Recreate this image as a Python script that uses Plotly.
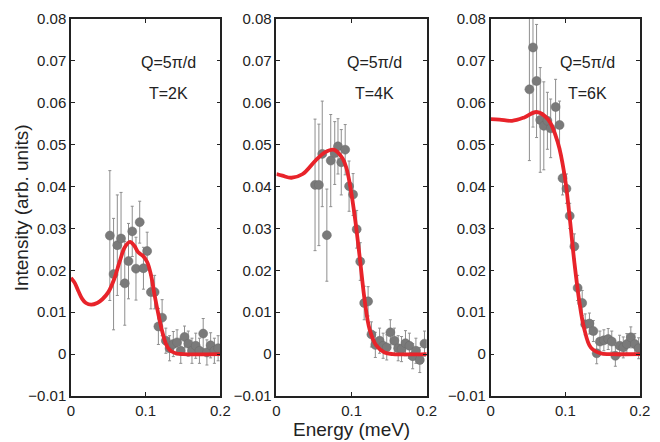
import plotly.graph_objects as go

# measured points, one list per temperature
e_2k = [0.052, 0.057, 0.062, 0.067, 0.072, 0.077, 0.082, 0.087, 0.092, 0.097,
        0.102, 0.107, 0.112, 0.117, 0.122, 0.127, 0.132, 0.137, 0.142, 0.147,
        0.152, 0.157, 0.162, 0.167, 0.172, 0.177, 0.182, 0.187, 0.192, 0.197]
i_2k = [0.0283, 0.0191, 0.0260, 0.0276, 0.0169, 0.0222, 0.0293, 0.0204, 0.0315, 0.0205,
        0.0246, 0.0148, 0.0148, 0.0066, 0.0087, 0.0032, 0.0014, 0.0024, 0.0028, 0.0008,
        0.0041, 0.0025, 0.0008, 0.0020, 0.0008, 0.0049, 0.0004, 0.0021, 0.0008, 0.0014]
err_2k = [0.0155, 0.0133, 0.012, 0.011, 0.010, 0.009, 0.006, 0.0075, 0.005, 0.005,
          0.0045, 0.004, 0.004, 0.0043, 0.0043, 0.003, 0.003, 0.003, 0.003, 0.003,
          0.0026, 0.003, 0.003, 0.003, 0.003, 0.0036, 0.003, 0.003, 0.003, 0.003]

e_4k = [0.0514, 0.0565, 0.061, 0.0671, 0.0723, 0.0776, 0.0819, 0.0863, 0.0915, 0.0967,
        0.102, 0.1068, 0.1115, 0.1168, 0.122, 0.1264, 0.1316, 0.1373, 0.142, 0.1468,
        0.1516, 0.1569, 0.162, 0.1665, 0.1717, 0.1769, 0.1813, 0.1856, 0.1908, 0.197]
i_4k = [0.0404, 0.0404, 0.0478, 0.0284, 0.0462, 0.0480, 0.0496, 0.0458, 0.0488, 0.0401,
        0.0381, 0.0298, 0.0221, 0.0122, 0.0126, 0.0047, 0.0022, 0.0032, 0.0020, 0.0016,
        0.0052, 0.0032, 0.0014, 0.0012, 0.0026, 0.0020, -0.0005, 0.0008, -0.0014, 0.0025]
err_4k = [0.0157, 0.0145, 0.0126, 0.011, 0.011, 0.0075, 0.0066, 0.0078, 0.006, 0.006,
          0.005, 0.0045, 0.0045, 0.004, 0.0035, 0.003, 0.003, 0.003, 0.003, 0.003,
          0.003, 0.003, 0.003, 0.003, 0.003, 0.003, 0.003, 0.003, 0.003, 0.003]

e_6k = [0.0519, 0.0567, 0.0615, 0.0664, 0.0712, 0.076, 0.0804, 0.087, 0.0923, 0.0963,
        0.1015, 0.1059, 0.1121, 0.1165, 0.1226, 0.1266, 0.1323, 0.1376, 0.142, 0.1464,
        0.1516, 0.1574, 0.1622, 0.167, 0.1727, 0.1776, 0.1824, 0.1877, 0.193, 0.1982]
i_6k = [0.0632, 0.0732, 0.0652, 0.0559, 0.0545, 0.0557, 0.0539, 0.0590, 0.0547, 0.0420,
        0.0395, 0.0330, 0.0257, 0.0158, 0.0122, 0.0071, 0.0073, 0.0055, 0.0002, 0.0030,
        0.0033, 0.0036, 0.0030, -0.0004, 0.0020, 0.0016, 0.0024, 0.0040, 0.0024, 0.0014]
err_6k = [0.017, 0.019, 0.0135, 0.0125, 0.0105, 0.0068, 0.007, 0.0066, 0.0057, 0.004,
          0.0035, 0.003, 0.003, 0.003, 0.003, 0.0025, 0.0025, 0.0025, 0.0025, 0.0025,
          0.0025, 0.0025, 0.0025, 0.0025, 0.0025, 0.0025, 0.0025, 0.0025, 0.0025, 0.0025]

# fitted curves
fe_2k = [0.0, 0.005, 0.010, 0.015, 0.020, 0.027, 0.035, 0.042, 0.050, 0.058, 0.065,
         0.072, 0.079, 0.085, 0.090, 0.096, 0.102, 0.107, 0.112, 0.117, 0.122, 0.127,
         0.132, 0.140, 0.150, 0.200]
fi_2k = [0.0182, 0.0170, 0.0150, 0.0132, 0.0122, 0.0118, 0.0122, 0.0131, 0.0148, 0.0180, 0.0220,
         0.0255, 0.0268, 0.0258, 0.0243, 0.0235, 0.0220, 0.0190, 0.0140, 0.0095, 0.0055, 0.0025,
         0.0010, 0.0002, 0.0, 0.0]

fe_4k = [0.0, 0.008, 0.020, 0.035, 0.052, 0.065, 0.076, 0.087, 0.093, 0.098, 0.1046,
         0.111, 0.1176, 0.124, 0.133, 0.1438, 0.155, 0.200]
fi_4k = [0.0430, 0.0426, 0.0421, 0.0430, 0.0462, 0.0482, 0.0488, 0.0470, 0.0445, 0.0403, 0.0324,
         0.0229, 0.0126, 0.0059, 0.0020, 0.0004, 0.0, 0.0]

fe_6k = [0.0, 0.012, 0.0286, 0.045, 0.0615, 0.077, 0.090, 0.099, 0.1055, 0.112, 0.1187,
         0.125, 0.134, 0.147, 0.160, 0.200]
fi_6k = [0.0561, 0.0560, 0.0557, 0.0565, 0.0578, 0.0560, 0.0505, 0.0427, 0.0332, 0.0221, 0.0126,
         0.0063, 0.0016, 0.0002, 0.0, 0.0]

temps = ["T=2K", "T=4K", "T=6K"]
y_ticks = [-0.01, 0, 0.01, 0.02, 0.03, 0.04, 0.05, 0.06, 0.07, 0.08]
y_labels = ["\u22120.01", "0", "0.01", "0.02", "0.03", "0.04", "0.05", "0.06", "0.07", "0.08"]
x_ticks = [0, 0.1, 0.2]
x_labels = ["0", "0.1", "0.2"]

FONT = "Liberation Sans, Arial, sans-serif"
domains = [[0.0, 0.2625], [0.361, 0.6252], [0.7375, 1.0]]

panels = [
    (e_2k, i_2k, err_2k, fe_2k, fi_2k),
    (e_4k, i_4k, err_4k, fe_4k, fi_4k),
    (e_6k, i_6k, err_6k, fe_6k, fi_6k),
]

fig = go.Figure()
for k, (e, i, err, fe, fi) in enumerate(panels):
    xa = "x" if k == 0 else f"x{k + 1}"
    ya = "y" if k == 0 else f"y{k + 1}"
    fig.add_trace(go.Scatter(
        x=e, y=i, mode="markers", xaxis=xa, yaxis=ya,
        marker=dict(size=9, color="#7a7a7a", line=dict(color="#6a6a6a", width=0.5)),
        error_y=dict(type="data", array=err, color="#8e8e8e", thickness=1, width=1.5),
        showlegend=False, cliponaxis=True,
    ))
    fig.add_trace(go.Scatter(
        x=fe, y=fi, mode="lines", xaxis=xa, yaxis=ya,
        line=dict(color="#e8232a", width=3.8, shape="spline", smoothing=1.0),
        showlegend=False,
    ))
    fig.add_annotation(x=0.13, y=0.0697, xref=xa, yref=ya, text="Q=5\u03c0/d",
                       showarrow=False, font=dict(size=16, color="#222"))
    fig.add_annotation(x=0.13, y=0.0622, xref=xa, yref=ya, text=temps[k],
                       showarrow=False, font=dict(size=16, color="#222"))

axis_common = dict(showline=True, linecolor="#222", linewidth=1.5, mirror="ticks",
                   ticks="inside", ticklen=4, tickcolor="#222", showgrid=False,
                   zeroline=False, tickfont=dict(size=15, color="#222"))
layout_axes = {}
for k in range(3):
    sx = "xaxis" if k == 0 else f"xaxis{k + 1}"
    sy = "yaxis" if k == 0 else f"yaxis{k + 1}"
    anchor_x = "y" if k == 0 else f"y{k + 1}"
    anchor_y = "x" if k == 0 else f"x{k + 1}"
    layout_axes[sx] = dict(axis_common, domain=domains[k], range=[0, 0.2], anchor=anchor_x,
                           tickvals=x_ticks, ticktext=x_labels)
    layout_axes[sy] = dict(axis_common, domain=[0, 1], range=[-0.01, 0.08], anchor=anchor_y,
                           tickvals=y_ticks, ticktext=y_labels)

fig.update_layout(
    width=660, height=442,
    margin=dict(l=71, r=10, t=16, b=46),
    paper_bgcolor="white", plot_bgcolor="white",
    font=dict(family=FONT, color="#222"),
    **layout_axes,
)
fig.add_annotation(x=-0.0864, y=0.5, xref="paper", yref="paper", text="Intensity (arb. units)",
                   textangle=-90, showarrow=False, xanchor="center", yanchor="middle",
                   font=dict(size=19, color="#222"))
fig.add_annotation(x=0.493, y=-0.0895, xref="paper", yref="paper", text="Energy (meV)",
                   showarrow=False, xanchor="center", yanchor="middle",
                   font=dict(size=19, color="#222"))

# the page's default body margin would push the 660x442 figure off the window
fig.write_html("out.html", config={"displayModeBar": False},
               post_script="document.body.style.margin='0';")
